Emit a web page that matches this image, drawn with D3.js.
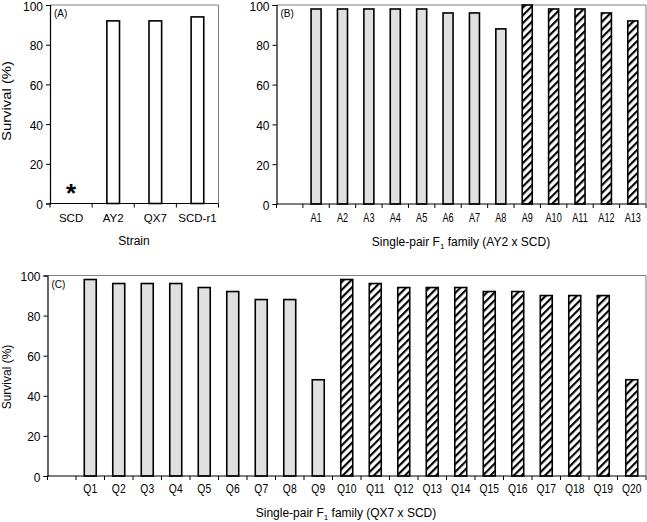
<!DOCTYPE html>
<html><head><meta charset="utf-8">
<script src="https://cdn.jsdelivr.net/npm/d3@7"></script>
<style>body{margin:0;background:#fff}svg{display:block}text{font-family:"Liberation Sans",Arial,sans-serif;fill:#000}</style>
</head><body>
<script>
// ---- data ----
const catsA = ["SCD", "AY2", "QX7", "SCD-r1"];
const valsA = [null, 92, 92, 94];
const catsB = ["", "A1", "A2", "A3", "A4", "A5", "A6", "A7", "A8", "A9", "A10", "A11", "A12", "A13"];
const valsB = [null, 98, 98, 98, 98, 98, 96, 96, 88, 100, 98, 98, 96, 92];
const kindB = ["", "g", "g", "g", "g", "g", "g", "g", "g", "h", "h", "h", "h", "h"];
const catsC = ["", "Q1", "Q2", "Q3", "Q4", "Q5", "Q6", "Q7", "Q8", "Q9", "Q10", "Q11", "Q12", "Q13", "Q14", "Q15", "Q16", "Q17", "Q18", "Q19", "Q20"];
const valsC = [null, 98, 96, 96, 96, 94, 92, 88, 88, 48, 98, 96, 94, 94, 94, 92, 92, 90, 90, 90, 48];
const kindC = ["", "g", "g", "g", "g", "g", "g", "g", "g", "g", "h", "h", "h", "h", "h", "h", "h", "h", "h", "h", "h"];
const yTicks = [0, 20, 40, 60, 80, 100];

const W = 647, H = 522;
const svg = d3.select("body").append("svg").attr("width", W).attr("height", H);
const defs = svg.append("defs");
const pat = defs.append("pattern").attr("id", "hatch").attr("patternUnits", "userSpaceOnUse")
  .attr("width", 5.5).attr("height", 5.5).attr("patternTransform", "rotate(45)");
pat.append("rect").attr("width", 5.5).attr("height", 5.5).attr("fill", "#fff");
pat.append("line").attr("x1", 1).attr("y1", 0).attr("x2", 1).attr("y2", 5.5).attr("stroke", "#000").attr("stroke-width", 2.3);

function panel(o) {
  const x = d3.scaleBand().domain(o.cats).range([o.x0, o.x1]).padding(0);
  const y = d3.scaleLinear().domain([0, 100]).range([o.y0, o.y1]);
  const g = svg.append("g");
  g.append("path").attr("d", `M${o.x0},${o.y1}H${o.x1}V${o.y0}`).attr("fill", "none").attr("stroke", "#808080").attr("stroke-width", 1);
  const bw = x.bandwidth() * o.ratio;
  o.vals.forEach((v, i) => {
    if (v == null) return;
    const cx = x(o.cats[i]) + x.bandwidth() / 2;
    const k = o.kind ? o.kind[i] : "w";
    g.append("rect").attr("x", cx - bw / 2).attr("y", y(v)).attr("width", bw).attr("height", y(0) - y(v))
      .attr("fill", k === "g" ? "#e0e0e0" : k === "h" ? "url(#hatch)" : "#fff")
      .attr("stroke", "#000").attr("stroke-width", 1.6);
  });
  const ya = d3.axisLeft(y).tickValues(yTicks).tickSize(4).tickPadding(3);
  const yg = g.append("g").attr("transform", `translate(${o.x0},0)`).call(ya);
  yg.select(".domain").attr("stroke", "#000").attr("stroke-width", 1.2);
  yg.selectAll("text").attr("font-size", 12).attr("dy", "0.42em").style("font-family", "Liberation Sans, Arial, sans-serif");
  g.append("line").attr("x1", o.x0).attr("x2", o.x1).attr("y1", o.y0).attr("y2", o.y0).attr("stroke", "#000").attr("stroke-width", 1.2);
  const bounds = o.cats.map(c => x(c)).concat([o.x1]);
  bounds.forEach(b => g.append("line").attr("x1", b).attr("x2", b).attr("y1", o.y0).attr("y2", o.y0 + 4).attr("stroke", "#000").attr("stroke-width", 1));
  o.cats.forEach(c => {
    if (!c) return;
    g.append("text").attr("transform", `translate(${x(c) + x.bandwidth() / 2},${o.labY}) scale(${o.labSx},1)`)
      .attr("text-anchor", "middle").attr("font-size", o.labSize).text(c);
  });
  g.append("text").attr("x", o.x0 + 4).attr("y", o.y1 + 12).attr("font-size", 10).text(o.tag);
  return { x, y, g };
}

const pA = panel({ cats: catsA, vals: valsA, x0: 50, x1: 218.5, y0: 203.5, y1: 5, ratio: 0.3, labY: 222, labSize: 11.5, labSx: 1, tag: "(A)" });
const pB = panel({ cats: catsB, vals: valsB, kind: kindB, x0: 276.5, x1: 646, y0: 204, y1: 5, ratio: 0.38, labY: 222, labSize: 12, labSx: 0.76, tag: "(B)" });
const pC = panel({ cats: catsC, vals: valsC, kind: kindC, x0: 47.5, x1: 646, y0: 476, y1: 275.5, ratio: 0.42, labY: 493, labSize: 12, labSx: 0.86, tag: "(C)" });

pA.g.append("text").attr("x", pA.x("SCD") + pA.x.bandwidth() / 2).attr("y", pA.y(0) - 2)
  .attr("text-anchor", "middle").attr("font-size", 26).attr("font-weight", "bold").text("*");

svg.append("text").attr("transform", "translate(11,101) rotate(-90)").attr("text-anchor", "middle").attr("font-size", 12)
  .attr("textLength", 80).attr("lengthAdjust", "spacingAndGlyphs").text("Survival (%)");
svg.append("text").attr("transform", "translate(11,377) rotate(-90)").attr("text-anchor", "middle").attr("font-size", 12).text("Survival (%)");
svg.append("text").attr("x", 134).attr("y", 245).attr("text-anchor", "middle").attr("font-size", 12).text("Strain");
function f1title(cx, yb, txt) {
  const t = svg.append("text").attr("x", cx).attr("y", yb).attr("text-anchor", "middle").attr("font-size", 12);
  t.append("tspan").text("Single-pair F");
  t.append("tspan").attr("font-size", 8).attr("dy", 3).text("1");
  t.append("tspan").attr("dy", -3).text(" family " + txt);
}
f1title(461, 246, "(AY2 x SCD)");
f1title(346, 517, "(QX7 x SCD)");
</script>
</body></html>
